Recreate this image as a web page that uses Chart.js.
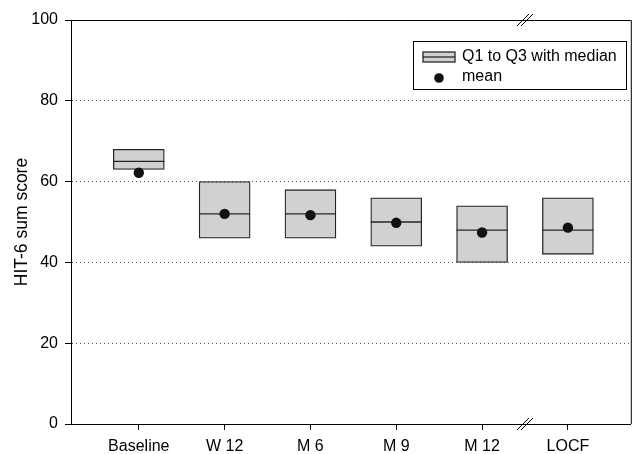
<!DOCTYPE html>
<html>
<head>
<meta charset="utf-8">
<script src="https://cdn.jsdelivr.net/npm/chart.js@4/dist/chart.umd.min.js"></script>
<style>
  html, body { margin: 0; padding: 0; background: #fff; }
  #wrap { width: 636px; height: 454px; }
</style>
</head>
<body>
<div id="wrap"><canvas id="hitChart" width="636" height="454"></canvas></div>
<script>
// Data.
var categories = ['Baseline', 'W 12', 'M 6', 'M 9', 'M 12', 'LOCF'];
var q1Values = [63, 46, 46, 44, 40, 42];
var q3Values = [68, 60, 58, 56, 54, 56];
var medianValues = [65, 52, 52, 50, 48, 48];
var meanValues = [62.2, 52, 51.7, 49.8, 47.4, 48.6];
var yTicks = [0, 20, 40, 60, 80, 100];

var FONT = '"Liberation Sans", Arial, Helvetica, sans-serif';
var boxFill = '#d1d1d1';
var boxLine = '#262626';

// Build points (x = category position 1..n).
var boxData = categories.map(function (c, i) { return { x: i + 1, y: [q1Values[i], q3Values[i]] }; });
var meanData = categories.map(function (c, i) { return { x: i + 1, y: meanValues[i] }; });

/**
 * Median line across each box, using the bar elements and the y scale.
 */
var medianPlugin = {
  id: 'medianLines',
  afterDatasetDraw: function (chart, args) {
    if (args.meta.type !== 'bar') return;
    var ctx = chart.ctx;
    var ys = chart.scales.y;
    ctx.save();
    ctx.strokeStyle = boxLine;
    ctx.lineWidth = 1.3;
    args.meta.data.forEach(function (bar, i) {
      var yy = ys.getPixelForValue(medianValues[i]);
      ctx.beginPath();
      ctx.moveTo(bar.x - bar.width / 2, yy);
      ctx.lineTo(bar.x + bar.width / 2, yy);
      ctx.stroke();
    });
    ctx.restore();
  }
};

/**
 * Top/right frame, axis break marks and the legend box.
 */
var framePlugin = {
  id: 'frameAndLegend',
  afterDraw: function (chart) {
    var ctx = chart.ctx;
    var a = chart.chartArea;
    var xs = chart.scales.x;
    ctx.save();
    ctx.strokeStyle = '#000';
    ctx.lineWidth = 1;
    ctx.beginPath();
    ctx.moveTo(a.left, a.top + 0.5);
    ctx.lineTo(a.right + 0.5, a.top + 0.5);
    ctx.lineTo(a.right + 0.5, a.bottom);
    ctx.stroke();

    // Break marks "//" on top and bottom axis.
    var bx = xs.getPixelForValue(5.5);
    [a.top, a.bottom].forEach(function (yy) {
      [-2, 2].forEach(function (off) {
        ctx.beginPath();
        ctx.moveTo(bx + off - 6, yy + 6);
        ctx.lineTo(bx + off + 6, yy - 6);
        ctx.stroke();
      });
    });

    // Legend.
    var lx = 413, ly = 41, lw = 213, lh = 48;
    ctx.fillStyle = '#fff';
    ctx.fillRect(lx, ly, lw, lh);
    ctx.strokeStyle = '#000';
    ctx.strokeRect(lx + 0.5, ly + 0.5, lw, lh);

    ctx.fillStyle = boxFill;
    ctx.fillRect(423, 52, 32, 10);
    ctx.strokeStyle = boxLine;
    ctx.lineWidth = 1.3;
    ctx.strokeRect(423, 52, 32, 10);
    ctx.beginPath();
    ctx.moveTo(423, 57);
    ctx.lineTo(455, 57);
    ctx.stroke();

    ctx.fillStyle = '#111';
    ctx.beginPath();
    ctx.arc(439, 78, 4.8, 0, Math.PI * 2);
    ctx.fill();

    ctx.fillStyle = '#000';
    ctx.font = '16px ' + FONT;
    ctx.textBaseline = 'middle';
    ctx.textAlign = 'left';
    ctx.fillText('Q1 to Q3 with median', 462, 57);
    ctx.fillText('mean', 462, 77);
    ctx.restore();
  }
};

var ctx = document.getElementById('hitChart');

var chartBlock = new Chart(ctx, {
  type: 'bar',
  data: {
    datasets: [
      {
        type: 'line',
        label: 'mean',
        data: meanData,
        showLine: false,
        pointStyle: 'circle',
        pointRadius: 5.2,
        pointBackgroundColor: '#111',
        pointBorderColor: '#111',
        pointBorderWidth: 0,
        order: 0
      },
      {
        type: 'bar',
        label: 'Q1 to Q3 with median',
        data: boxData,
        backgroundColor: boxFill,
        borderColor: boxLine,
        borderWidth: 1.3,
        borderSkipped: false,
        barThickness: 51,
        grouped: false,
        order: 2
      }
    ]
  },
  options: {
    responsive: false,
    animation: false,
    events: [],
    layout: { padding: { left: 0, top: 20, right: 4, bottom: 0 } },
    plugins: {
      legend: { display: false },
      tooltip: { enabled: false }
    },
    scales: {
      x: {
        type: 'linear',
        offset: false,
        min: 0.21,
        max: 6.733,
        afterBuildTicks: function (scale) {
          scale.ticks = categories.map(function (c, i) { return { value: i + 1 }; });
        },
        afterFit: function (scale) { scale.height = 30; },
        ticks: {
          font: { family: FONT, size: 16 },
          color: '#000',
          padding: 7,
          maxRotation: 0,
          autoSkip: false,
          callback: function (v) { return categories[v - 1]; }
        },
        grid: {
          offset: false,
          drawOnChartArea: false,
          drawTicks: true,
          tickLength: 6,
          tickColor: '#000',
          color: '#000'
        },
        border: { display: true, color: '#000', width: 1 }
      },
      y: {
        min: 0,
        max: 100,
        afterBuildTicks: function (scale) {
          scale.ticks = yTicks.map(function (v) { return { value: v }; });
        },
        afterFit: function (scale) { scale.width = 71; },
        ticks: {
          font: { family: FONT, size: 16 },
          color: '#000',
          padding: 7
        },
        grid: {
          color: function (c) {
            var v = c.tick ? c.tick.value : null;
            return (v === 0 || v === 100) ? 'rgba(0,0,0,0)' : '#555';
          },
          tickBorderDash: [],
          tickLength: 6,
          tickColor: '#000',
          lineWidth: 1
        },
        border: { display: true, color: '#000', width: 1, dash: [1, 3] },
        title: {
          display: true,
          text: 'HIT-6 sum score',
          font: { family: FONT, size: 17.5 },
          color: '#000',
          padding: { top: 12, bottom: 0 }
        }
      }
    }
  },
  plugins: [medianPlugin, framePlugin]
});
</script>
</body>
</html>
